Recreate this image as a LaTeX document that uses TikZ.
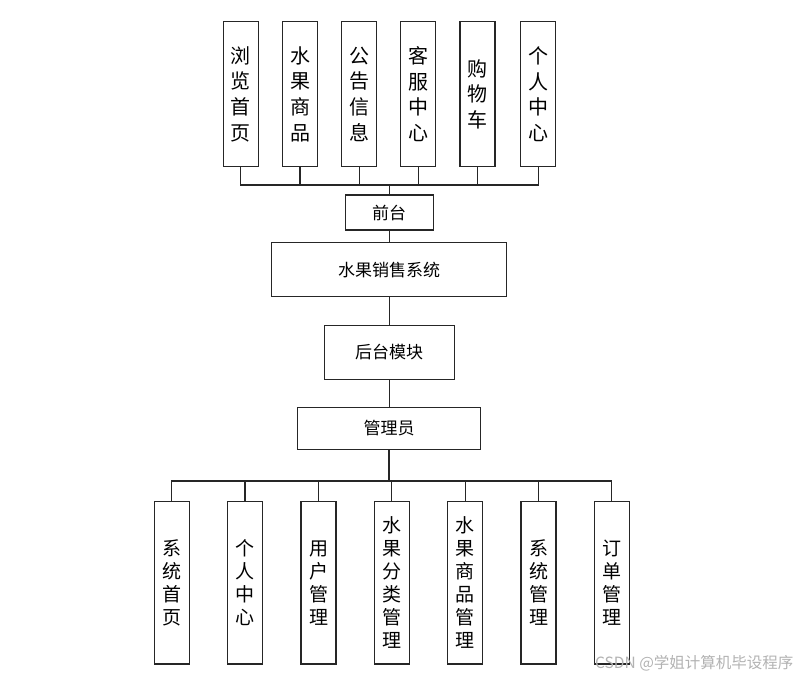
\documentclass[tikz,border=0pt]{standalone}
\usepackage{fontspec}
\newfontfamily\cjk{Noto Sans CJK SC}
\begin{document}
\begin{tikzpicture}[x=1pt,y=-1pt,
  box/.style={draw=black!85,line width=1.1pt,fill=white,inner sep=0pt,align=center},
  topbox/.style={box,minimum width=35pt,minimum height=145pt,font={\cjk\fontsize{20}{25.6}\selectfont}},
  botbox/.style={box,minimum width=35pt,minimum height=162.3pt,font={\cjk\fontsize{19}{23}\selectfont}},
  midbox/.style={box,font={\cjk\fontsize{17}{20}\selectfont}},
  link/.style={draw=black!85,line width=1.1pt}]
\useasboundingbox (0,0) rectangle (804,680);
% top level boxes
\node[topbox] (t1) at (240.8,94.2) {浏\\览\\首\\页};
\node[topbox] (t2) at (300.0,94.2) {水\\果\\商\\品};
\node[topbox] (t3) at (359.2,94.2) {公\\告\\信\\息};
\node[topbox] (t4) at (418.2,94.2) {客\\服\\中\\心};
\node[topbox] (t5) at (477.5,94.2) {购\\物\\车};
\node[topbox] (t6) at (538.2,94.2) {个\\人\\中\\心};
% middle chain
\node[midbox,minimum width=87.7pt,minimum height=35pt] (qt) at (389.2,212.5) {前台};
\node[midbox,minimum width=235pt,minimum height=54pt] (sys) at (389.2,269.7) {水果销售系统};
\node[midbox,minimum width=130pt,minimum height=54.3pt] (ht) at (389.2,352.2) {后台模块};
\node[midbox,minimum width=183pt,minimum height=41.3pt] (gly) at (389.2,428.4) {管理员};
% bottom boxes
\node[botbox] (b1) at (171.7,582.8) {系\\统\\首\\页};
\node[botbox] (b2) at (245.0,582.8) {个\\人\\中\\心};
\node[botbox] (b3) at (318.5,582.8) {用\\户\\管\\理};
\node[botbox] (b4) at (391.8,582.8) {水\\果\\分\\类\\管\\理};
\node[botbox] (b5) at (465.2,582.8) {水\\果\\商\\品\\管\\理};
\node[botbox] (b6) at (538.5,582.8) {系\\统\\管\\理};
\node[botbox] (b7) at (611.8,582.8) {订\\单\\管\\理};
% connectors
\coordinate (tbus) at (389.2,185);
\coordinate (bbus) at (389.2,481);
\foreach \n in {t1,t2,t3,t4,t5,t6} \draw[link] (\n.south) |- (tbus);
\draw[link] (tbus) -- (qt.north);
\draw[link] (qt.south) -- (sys.north);
\draw[link] (sys.south) -- (ht.north);
\draw[link] (ht.south) -- (gly.north);
\draw[link,line width=1.8pt] (gly.south) -- (bbus);
\foreach \n in {b1,b2,b3,b4,b5,b6,b7} \draw[link] (\n.north) |- (bbus);
% watermark
\node[anchor=west,inner sep=0pt,text=black!30,font={\cjk\fontsize{15.5}{17}\selectfont}] (wm) at (595,663) {CSDN @学姐计算机毕设程序};
\end{tikzpicture}
\end{document}
